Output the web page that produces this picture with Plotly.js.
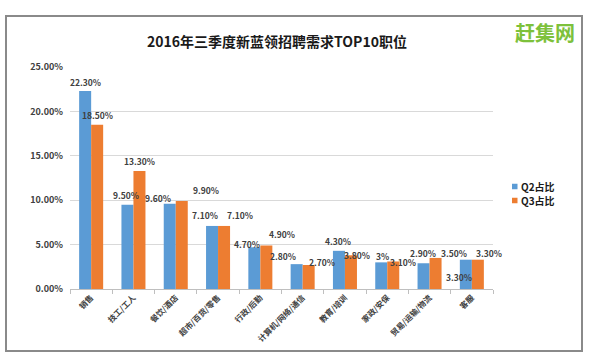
<!DOCTYPE html>
<html>
<head>
<meta charset="utf-8">
<script src="https://cdn.plot.ly/plotly-3.0.1.min.js"></script>
<style>
  html, body { margin:0; padding:0; background:#fff; }
  #wrap { position:relative; width:602px; height:357px; }
  #frame { position:absolute; left:5px; top:15px; width:574px; height:333px; border:2px solid #8a8a8a; box-sizing:content-box; }
  #chart { position:absolute; left:0; top:0; width:602px; height:357px; }
</style>
</head>
<body>
<div id="wrap">
  <div id="frame"></div>
  <div id="chart"></div>
</div>
<script>
// ---- data ----
const categories = ["销售", "技工/工人", "餐饮/酒店", "超市/百货/零售", "行政/后勤", "计算机/网络/通信", "教育/培训", "家政/安保", "贸易/运输/物流", "客服"];
const q2Values = [22.3, 9.5, 9.6, 7.1, 4.7, 2.8, 4.3, 3.0, 2.9, 3.3];
const q3Values = [18.5, 13.3, 9.9, 7.1, 4.9, 2.7, 3.8, 3.1, 3.5, 3.3];
const q2Labels = ["22.30%", "9.50%", "9.60%", "7.10%", "4.70%", "2.80%", "4.30%", "3%", "2.90%", "3.30%"];
const q3Labels = ["18.50%", "13.30%", "9.90%", "7.10%", "4.90%", "2.70%", "3.80%", "3.10%", "3.50%", "3.30%"];
const seriesNames = ["Q2占比", "Q3占比"];
const seriesColors = ['#5b9bd5', '#ed7d31'];
const yTicks = [0, 5, 10, 15, 20, 25];

// ---- label placement (pixel nudges, styling only) ----
const q2Shift = [[0,9],[-1,10],[-12,6],[-7,11],[-7,3],[-14,8],[-1,10],[1,6],[-1,10],[-7,-17]];
const q3Shift = [[0,10],[0,10],[24,11],[16,11],[16,11],[13,3],[6,0],[10,-1],[18,5],[11,7]];

const FONT = '"Noto Sans CJK SC", "Noto Sans", sans-serif';
const idx = categories.map((c, i) => i);
const barGap = 0.432;
const half = (1 - barGap) / 4;

// plot-area pixel helpers (plot area: x 70..493, y 67..289)
const PL = 70, PW = 423, PB = 289, PH = 222;
const px = v => (v - PL) / PW;
const py = v => (PB - v) / PH;

const traces = [
  { type:'bar', name:seriesNames[0], x:idx, y:q2Values, marker:{color:seriesColors[0]}, hoverinfo:'skip' },
  { type:'bar', name:seriesNames[1], x:idx, y:q3Values, marker:{color:seriesColors[1]}, hoverinfo:'skip' }
];

const annotations = [];
idx.forEach(i => {
  annotations.push({ x:i - half, y:q2Values[i], xref:'x', yref:'y', text:q2Labels[i], showarrow:false,
    xshift:q2Shift[i][0], yshift:q2Shift[i][1], yanchor:'middle', xanchor:'center',
    font:{family:FONT, size:8.5, color:'#404040', weight:'bold'} });
  annotations.push({ x:i + half, y:q3Values[i], xref:'x', yref:'y', text:q3Labels[i], showarrow:false,
    xshift:q3Shift[i][0], yshift:q3Shift[i][1], yanchor:'middle', xanchor:'center',
    font:{family:FONT, size:8.5, color:'#404040', weight:'bold'} });
});
annotations.push({ xref:'paper', yref:'paper', x:px(545), y:py(32), text:'赶集网', showarrow:false,
  xanchor:'center', yanchor:'middle', font:{family:FONT, size:20, color:'#7dc13b', weight:'bold'} });

// manual legend
const shapes = [];
const legY = [186.5, 200.5];
seriesNames.forEach((n, k) => {
  shapes.push({ type:'rect', xref:'paper', yref:'paper', x0:px(512), x1:px(517.5),
    y0:py(legY[k] + 2.75), y1:py(legY[k] - 2.75), fillcolor:seriesColors[k], line:{width:0} });
  annotations.push({ xref:'paper', yref:'paper', x:px(519), y:py(legY[k]), text:n, showarrow:false,
    xanchor:'left', yanchor:'middle', font:{family:FONT, size:10, color:'#1a1a1a', weight:'bold'} });
});

const layout = {
  width:602, height:357,
  margin:{l:70, r:109, t:67, b:68},
  paper_bgcolor:'rgba(0,0,0,0)', plot_bgcolor:'rgba(0,0,0,0)',
  barmode:'group', bargap:barGap, bargroupgap:0,
  title:{ text:'2016年三季度新蓝领招聘需求TOP10职位', xref:'container', yref:'container', x:0.46, y:0.882,
    xanchor:'center', yanchor:'middle', font:{family:FONT, size:14, color:'#1a1a1a', weight:'bold'} },
  xaxis:{ range:[-0.5, 9.5], tickmode:'array', tickvals:idx, ticktext:categories, tickangle:-45,
    ticks:'', showgrid:false, zeroline:false, showline:true, linecolor:'#bfbfbf', linewidth:1,
    tickfont:{family:FONT, size:8, color:'#404040', weight:'bold'},
    minor:{ tickmode:'linear', tick0:-0.5, dtick:1, ticks:'outside', ticklen:4, tickcolor:'#bfbfbf', showgrid:false } },
  yaxis:{ range:[0, 25], tickmode:'array', tickvals:yTicks, ticktext:yTicks.map(v => v.toFixed(2) + '%'),
    showgrid:true, gridcolor:'#d9d9d9', gridwidth:1, zeroline:false, showline:false, ticks:'',
    ticklabelstandoff:6, tickfont:{family:FONT, size:9, color:'#404040', weight:'bold'} },
  showlegend:false,
  shapes:shapes,
  annotations:annotations
};

Plotly.newPlot('chart', traces, layout, {staticPlot:true, displayModeBar:false});
</script>
</body>
</html>
